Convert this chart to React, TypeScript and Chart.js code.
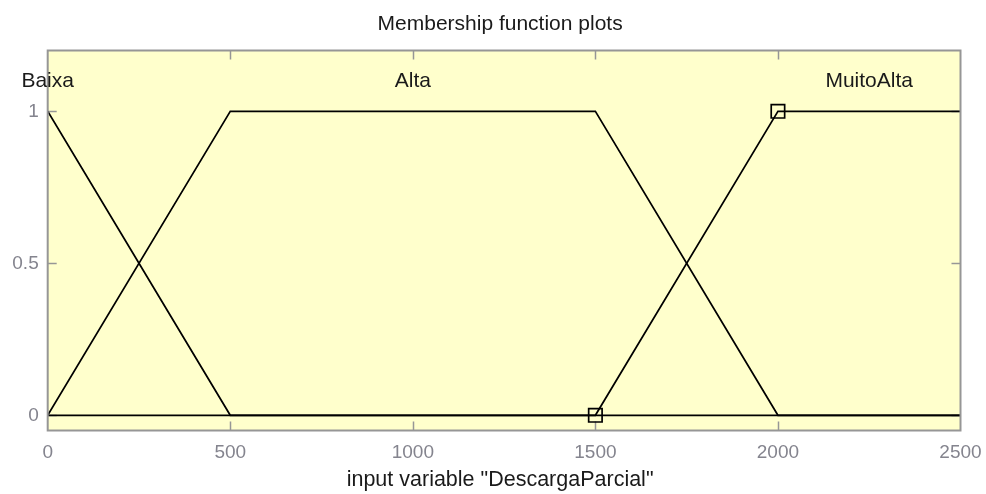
import React, { useEffect, useRef } from "react";
import { Chart, registerables } from "chart.js";

Chart.register(...registerables);

// ---- data ----
const xTicks = [0, 500, 1000, 1500, 2000, 2500];
const yTicks = [0, 0.5, 1];
const yTickLabels = ["0", "0.5", "1"];

const baixaX = [0, 500, 2500];
const baixaY = [1, 0, 0];
const altaX = [0, 500, 1500, 2000, 2500];
const altaY = [0, 1, 1, 0, 0];
const muitoAltaX = [0, 1500, 2000, 2500];
const muitoAltaY = [0, 0, 1, 1];
const muitoAltaMarked = [false, true, true, false];

const mfNames = ["Baixa", "Alta", "MuitoAlta"];
const mfLabelX = [0, 1000, 2250];
const mfLabelY = [1.1, 1.1, 1.1];

const chartTitle = "Membership function plots";
const xTitle = 'input variable "DescargaParcial"';

const FONT = '"Liberation Sans", Arial, sans-serif';

const toPts = (xs: number[], ys: number[]) => xs.map((x, i) => ({ x, y: ys[i] }));

const decorPlugin = {
  id: "decor",
  beforeDatasetsDraw(chart: any) {
    const { ctx, chartArea: a } = chart;
    const xs = chart.scales.x;
    const ys = chart.scales.y;
    ctx.save();
    ctx.fillStyle = "#FFFFCC";
    ctx.fillRect(a.left, a.top, a.right - a.left, a.bottom - a.top);
    // inside ticks
    ctx.strokeStyle = "#969696";
    ctx.lineWidth = 1.5;
    const tl = 9;
    ctx.beginPath();
    xTicks.forEach((v) => {
      const px = Math.round(xs.getPixelForValue(v)) + 0.5;
      if (px <= a.left + 1 || px >= a.right - 1) return;
      ctx.moveTo(px, a.bottom);
      ctx.lineTo(px, a.bottom - tl);
      ctx.moveTo(px, a.top);
      ctx.lineTo(px, a.top + tl);
    });
    yTicks.forEach((v) => {
      const py = Math.round(ys.getPixelForValue(v)) + 0.5;
      ctx.moveTo(a.left, py);
      ctx.lineTo(a.left + tl, py);
      ctx.moveTo(a.right, py);
      ctx.lineTo(a.right - tl, py);
    });
    ctx.stroke();
    ctx.restore();
  },
  afterDraw(chart: any) {
    const { ctx, chartArea: a } = chart;
    const xs = chart.scales.x;
    const ys = chart.scales.y;
    ctx.save();
    // frame
    ctx.strokeStyle = "#969696";
    ctx.lineWidth = 2;
    ctx.strokeRect(a.left, a.top, a.right - a.left, a.bottom - a.top);
    ctx.restore();

    // MF labels
    ctx.save();
    ctx.fillStyle = "#1a1a1a";
    ctx.font = `21px ${FONT}`;
    ctx.textAlign = "center";
    ctx.textBaseline = "middle";
    mfNames.forEach((n, i) => {
      ctx.fillText(n, xs.getPixelForValue(mfLabelX[i]), ys.getPixelForValue(mfLabelY[i]));
    });
    // title and x-axis title
    const cx = (a.left + a.right) / 2 - 4;
    ctx.fillText(chartTitle, cx, 24.5);
    ctx.font = `21.5px ${FONT}`;
    ctx.fillText(xTitle, cx, 480.5);
    ctx.restore();
  },
};

export default function App() {
  const ref = useRef<HTMLCanvasElement>(null);
  useEffect(() => {
    document.body.style.margin = "0";
    const canvas = ref.current!;
    const lineDs = (label: string, xs: number[], ys: number[], marked?: boolean[]) => ({
      label,
      data: toPts(xs, ys),
      showLine: true,
      borderColor: "#000",
      borderWidth: 1.7,
      pointStyle: "rect",
      pointRadius: (c: any) => (marked && marked[c.dataIndex] ? 9.5 : 0),
      pointBorderWidth: 1.7,
      pointBorderColor: "#000",
      pointBackgroundColor: "rgba(0,0,0,0)",
      tension: 0,
    });
    const chart = new Chart(canvas, {
      type: "scatter",
      data: {
        datasets: [
          lineDs(mfNames[0], baixaX, baixaY),
          lineDs(mfNames[1], altaX, altaY),
          lineDs(mfNames[2], muitoAltaX, muitoAltaY, muitoAltaMarked),
        ],
      },
      options: {
        responsive: false,
        animation: false,
        devicePixelRatio: 1,
        layout: { padding: { left: 0, right: 25.5, top: 50.5, bottom: 0 } },
        plugins: { legend: { display: false }, tooltip: { enabled: false }, title: { display: false } },
        scales: {
          x: {
            type: "linear",
            min: 0,
            max: 2500,
            afterBuildTicks: (s: any) => {
              s.ticks = xTicks.map((v) => ({ value: v }));
            },
            ticks: {
              color: "#84848e",
              font: { family: FONT, size: 19 },
              padding: 11,
              maxRotation: 0,
              callback: (v: any) => String(v),
            },
            grid: { display: false, drawTicks: false },
            border: { display: false },
            afterFit: (s: any) => {
              s.height = 63.5;
              s.paddingLeft = 0;
              s.paddingRight = 0;
            },
          },
          y: {
            type: "linear",
            min: -0.05,
            max: 1.2,
            afterBuildTicks: (s: any) => {
              s.ticks = yTicks.map((v) => ({ value: v }));
            },
            ticks: {
              color: "#84848e",
              font: { family: FONT, size: 19 },
              padding: 9,
              callback: (v: any) => {
                const i = yTicks.indexOf(Number(v));
                return i >= 0 ? yTickLabels[i] : "";
              },
            },
            grid: { display: false, drawTicks: false },
            border: { display: false },
            afterFit: (s: any) => {
              s.width = 47.7;
              s.paddingTop = 0;
              s.paddingBottom = 0;
            },
          },
        },
      } as any,
      plugins: [decorPlugin],
    });
    return () => chart.destroy();
  }, []);
  return (
    <div style={{ position: "fixed", left: 0, top: 0, width: 986, height: 494, background: "#fff" }}>
      <canvas ref={ref} width={986} height={494} style={{ width: 986, height: 494, display: "block" }} />
    </div>
  );
}
